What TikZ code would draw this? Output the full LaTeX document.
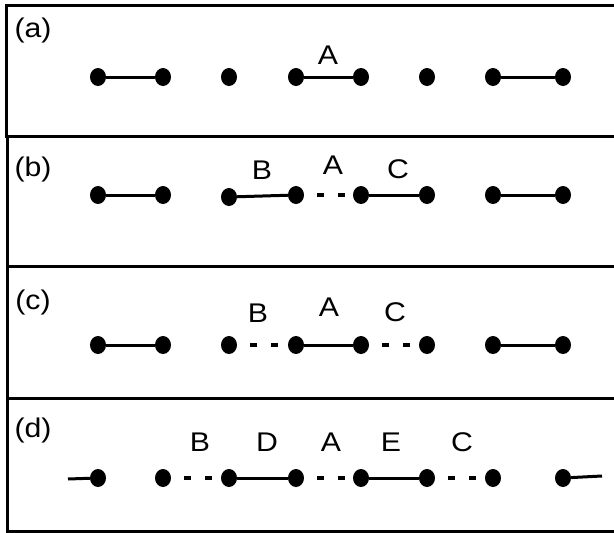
\documentclass[tikz,border=0pt]{standalone}
\usepackage{fontspec}
\setmainfont{Liberation Sans}
\usetikzlibrary{shapes.geometric}
\newcommand{\wtxt}[1]{\scalebox{1.12}[1]{#1}}
\begin{document}
\begin{tikzpicture}[x=1pt,y=-1pt,
  dot/.style={ellipse,fill=black,inner sep=0pt,minimum width=16pt,minimum height=18pt},
  seg/.style={line width=3pt},
  dseg/.style={line width=3.5pt,dash pattern=on 7pt off 14pt,dash phase=8pt},
  lab/.style={font=\fontsize{27}{32}\selectfont,inner sep=0pt},
  panel/.style={line width=3pt}]
\useasboundingbox (0,0) rectangle (614,533);
\clip (0,0) rectangle (614,533);
% panels
\draw[panel] (6,5) rectangle (630,136);
\draw[panel] (7,136) rectangle (630,266);
\draw[panel] (7,266) rectangle (630,398);
\draw[panel] (7,398) rectangle (630,531);
% panel labels
\node[lab] (la) at (33,31) {\wtxt{(a)}};
\node[lab] (lb) at (33,170) {\wtxt{(b)}};
\node[lab] (lc) at (33,303) {\wtxt{(c)}};
\node[lab] (ld) at (33,431) {\wtxt{(d)}};
% (a)
\foreach \i/\x in {1/98,2/163,3/229,4/296,5/361,6/427,7/493,8/563}
  \node[dot] (a\i) at (\x,77) {};
\draw[seg] (a1) -- (a2);
\draw[seg] (a4) -- (a5);
\draw[seg] (a7) -- (a8);
\node[lab] (aA) at (328,55) {\wtxt{A}};
% (b)
\foreach \i/\x in {1/98,2/163,4/296,5/361,6/427,7/493,8/563}
  \node[dot] (b\i) at (\x,195) {};
\node[dot] (b3) at (229,197) {};
\draw[seg] (b1) -- (b2);
\draw[seg] (b3) -- (b4);
\draw[dseg] (b4) -- (b5);
\draw[seg] (b5) -- (b6);
\draw[seg] (b7) -- (b8);
\node[lab] (bB) at (262,170) {\wtxt{B}};
\node[lab] (bA) at (333,165) {\wtxt{A}};
\node[lab] (bC) at (398,169) {\wtxt{C}};
% (c)
\foreach \i/\x in {1/98,2/163,3/229,4/296,5/361,6/427,7/493,8/563}
  \node[dot] (c\i) at (\x,345) {};
\draw[seg] (c1) -- (c2);
\draw[dseg] (c3) -- (c4);
\draw[seg] (c4) -- (c5);
\draw[dseg] (c5) -- (c6);
\draw[seg] (c7) -- (c8);
\node[lab] (cB) at (258,313) {\wtxt{B}};
\node[lab] (cA) at (329,307) {\wtxt{A}};
\node[lab] (cC) at (395,312) {\wtxt{C}};
% (d)
\foreach \i/\x in {1/98,2/163,3/229,4/296,5/361,6/427,7/493,8/563}
  \node[dot] (d\i) at (\x,478) {};
\coordinate (dl) at (68,479);
\coordinate (dr) at (602,476);
\draw[seg] (dl) -- (d1);
\draw[dseg] (d2) -- (d3);
\draw[seg] (d3) -- (d4);
\draw[dseg] (d4) -- (d5);
\draw[seg] (d5) -- (d6);
\draw[dseg] (d6) -- (d7);
\draw[seg] (d8) -- (dr);
\node[lab] (dB) at (200,442) {\wtxt{B}};
\node[lab] (dD) at (267,442) {\wtxt{D}};
\node[lab] (dA) at (331,442) {\wtxt{A}};
\node[lab] (dE) at (391,442) {\wtxt{E}};
\node[lab] (dC) at (462,442) {\wtxt{C}};
\end{tikzpicture}
\end{document}
